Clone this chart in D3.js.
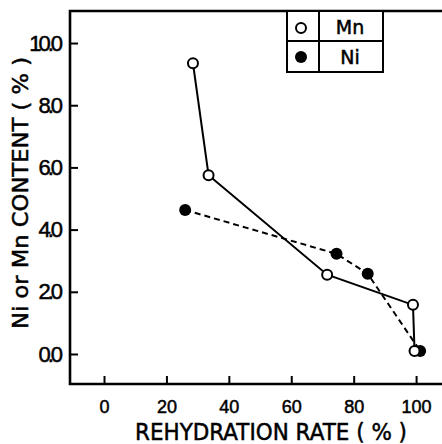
<!DOCTYPE html>
<html>
<head>
<meta charset="utf-8">
<script src="https://cdn.jsdelivr.net/npm/d3@7"></script>
<style>
  body { margin: 0; background: #fff; }
  svg { display: block; font-family: "DejaVu Sans", sans-serif; }
  svg text { stroke: #000; stroke-width: 0.5px; fill: #000; }
</style>
</head>
<body>
<svg id="chart" width="442" height="444"></svg>
<script>
// rehydration rate (%) vs content (%)
const mnRate = [28.5, 33.5, 71.5, 99, 99.5];
const mnContent = [93.5, 57.5, 25.5, 15.8, 1];
const niRate = [26, 74.5, 84.5, 101.3];
const niContent = [46.3, 32.2, 25.8, 1];

const xTicks = [0, 20, 40, 60, 80, 100];
const xTickLabels = ["0", "20", "40", "60", "80", "100"];
const yTicks = [0, 20, 40, 60, 80, 100];
const yTickLabels = ["0.0", "2.0", "4.0", "6.0", "8.0", "10.0"];

const legendItems = ["Mn", "Ni"];

const svg = d3.select("#chart");
const plotL = 70, plotR = 442, plotT = 11, plotB = 384;

const x = d3.scaleLinear().domain([-10.9, 108.3]).range([plotL, plotR]);
const y = d3.scaleLinear().domain([-9.65, 110.3]).range([plotB, plotT]);

// frame: left, bottom, top (right side open)
svg.append("path")
    .attr("d", `M${plotR},${plotT} L${plotL},${plotT} L${plotL},${plotB} L${plotR},${plotB}`)
    .attr("stroke", "#000")
    .attr("stroke-width", 2.6)
    .attr("fill", "none");

// y axis - ticks inward
const yAxis = svg.append("g")
    .attr("transform", `translate(${plotL},0)`)
    .call(d3.axisLeft(y)
        .tickValues(yTicks)
        .tickSize(-8)
        .tickPadding(10)
        .tickFormat((d, i) => yTickLabels[i]));
yAxis.select(".domain").remove();
yAxis.selectAll("line").attr("stroke-width", 2);
yAxis.selectAll("text")
    .attr("font-size", 22)
    .attr("letter-spacing", -3);

// x axis - ticks inward
const xAxis = svg.append("g")
    .attr("transform", `translate(0,${plotB})`)
    .call(d3.axisBottom(x)
        .tickValues(xTicks)
        .tickSize(-8)
        .tickPadding(16)
        .tickFormat((d, i) => xTickLabels[i]));
xAxis.select(".domain").remove();
xAxis.selectAll("line").attr("stroke-width", 2);
xAxis.selectAll("text")
    .attr("font-size", 18);

// axis titles
svg.append("text")
    .attr("transform", "translate(28,193) rotate(-90)")
    .attr("text-anchor", "middle")
    .attr("font-size", 22)
    .attr("textLength", 272)
    .attr("lengthAdjust", "spacingAndGlyphs")
    .text("Ni or Mn CONTENT ( % )");

svg.append("text")
    .attr("x", 271)
    .attr("y", 440)
    .attr("text-anchor", "middle")
    .attr("font-size", 23)
    .attr("textLength", 272)
    .attr("lengthAdjust", "spacingAndGlyphs")
    .text("REHYDRATION RATE  ( % )");

// series
const mn = mnRate.map((r, i) => ({r, c: mnContent[i]}));
const ni = niRate.map((r, i) => ({r, c: niContent[i]}));
const line = d3.line().x(d => x(d.r)).y(d => y(d.c));

svg.append("path")
    .datum(ni)
    .attr("d", line)
    .attr("fill", "none")
    .attr("stroke", "#000")
    .attr("stroke-width", 2)
    .attr("stroke-dasharray", "6,4");

svg.append("path")
    .datum(mn)
    .attr("d", line)
    .attr("fill", "none")
    .attr("stroke", "#000")
    .attr("stroke-width", 2);

svg.selectAll(".ni")
    .data(ni)
    .enter().append("circle")
    .attr("class", "ni")
    .attr("cx", d => x(d.r))
    .attr("cy", d => y(d.c))
    .attr("r", 6)
    .attr("fill", "#000");

svg.selectAll(".mn")
    .data(mn)
    .enter().append("circle")
    .attr("class", "mn")
    .attr("cx", d => x(d.r))
    .attr("cy", d => y(d.c))
    .attr("r", 5)
    .attr("fill", "#fff")
    .attr("stroke", "#000")
    .attr("stroke-width", 2);

// legend table
const lg = svg.append("g").attr("transform", "translate(287,11)");
lg.append("rect")
    .attr("width", 96)
    .attr("height", 61)
    .attr("fill", "#fff")
    .attr("stroke", "#000")
    .attr("stroke-width", 2);
lg.append("line")
    .attr("x1", 32).attr("x2", 32)
    .attr("y1", 0).attr("y2", 61)
    .attr("stroke", "#000").attr("stroke-width", 2);
lg.append("line")
    .attr("x1", 0).attr("x2", 96)
    .attr("y1", 30).attr("y2", 30)
    .attr("stroke", "#000").attr("stroke-width", 2);

lg.selectAll(".lt")
    .data(legendItems)
    .enter().append("text")
    .attr("class", "lt")
    .attr("x", 63)
    .attr("y", (d, i) => 23 + i * 30)
    .attr("text-anchor", "middle")
    .attr("font-size", 19)
    .text(d => d);

lg.append("circle")
    .attr("cx", 14).attr("cy", 17).attr("r", 5)
    .attr("fill", "#fff").attr("stroke", "#000").attr("stroke-width", 2);
lg.append("circle")
    .attr("cx", 14).attr("cy", 46).attr("r", 6)
    .attr("fill", "#000");
</script>
</body>
</html>
